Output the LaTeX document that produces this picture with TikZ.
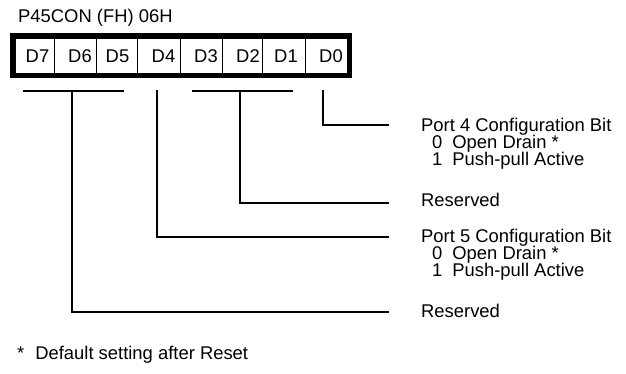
\documentclass[tikz,border=0pt]{standalone}
\usepackage{fontspec}
\setmainfont{Liberation Sans}
\begin{document}
\begin{tikzpicture}[x=1pt,y=-1pt,
  txt/.style={font=\fontsize{18.4}{20}\selectfont, inner sep=0pt, anchor=base west},
  cell/.style={draw, line width=0.8pt, minimum height=35pt, inner sep=0pt, anchor=center,
    font=\fontsize{18.4}{20}\selectfont},
  regbox/.style={draw, line width=5pt, minimum width=337pt, minimum height=40pt, inner sep=0pt},
  conn/.style={line width=2pt}]
\useasboundingbox (0,0) rectangle (626,373);
% title
\node[txt] (title) at (18,22) {P45CON (FH) 06H};
% cells
\node[cell, minimum width=39pt] (d7) at (34.5,56) {\hspace*{6pt}D7};
\node[cell, minimum width=42pt] (d6) at (75,56) {\hspace*{10pt}D6};
\node[cell, minimum width=41pt] (d5) at (116.5,56) {\hspace*{2pt}D5};
\node[cell, minimum width=43pt] (d4) at (158.5,56) {\hspace*{10pt}D4};
\node[cell, minimum width=42pt] (d3) at (201,56) {\hspace*{10pt}D3};
\node[cell, minimum width=40pt] (d2) at (242,56) {\hspace*{12pt}D2};
\node[cell, minimum width=43pt] (d1) at (283.5,56) {\hspace*{5pt}D1};
\node[cell, minimum width=42pt] (d0) at (326,56) {\hspace*{10pt}D0};
\node[regbox] (reg) at (181,55.5) {};
% connector coordinates
\coordinate (b1l) at (23,90.7);
\coordinate (b1r) at (124,90.7);
\coordinate (b1m) at (72,90.7);
\coordinate (b4) at (157,90);
\coordinate (b2l) at (192,90.7);
\coordinate (b2r) at (293,90.7);
\coordinate (b2m) at (240,90.7);
\coordinate (b0) at (323,90);
\coordinate (e0) at (389,125);
\coordinate (e2) at (389,203);
\coordinate (e4) at (389,237);
\coordinate (e6) at (389,312);
% connectors
\draw[conn] (b1l) -- (b1r);
\draw[conn] (b1m) |- (e6);
\draw[conn] (b4) |- (e4);
\draw[conn] (b2l) -- (b2r);
\draw[conn] (b2m) |- (e2);
\draw[conn] (b0) |- (e0);
% labels
\node[txt] (p4) at (421,131.5) {Port 4 Configuration Bit};
\node[txt] (p4a) at (432,148.5) {0\hspace{10pt}Open Drain *};
\node[txt] (p4b) at (432,165.5) {1\hspace{10pt}Push-pull Active};
\node[txt] (r1) at (421,206) {Reserved};
\node[txt] (p5) at (421,242.5) {Port 5 Configuration Bit};
\node[txt] (p5a) at (432,259.5) {0\hspace{10pt}Open Drain *};
\node[txt] (p5b) at (432,276.5) {1\hspace{10pt}Push-pull Active};
\node[txt] (r2) at (421,317.5) {Reserved};
\node[txt] (foot) at (17,359) {*\hspace{11pt}Default setting after Reset};
\end{tikzpicture}
\end{document}
